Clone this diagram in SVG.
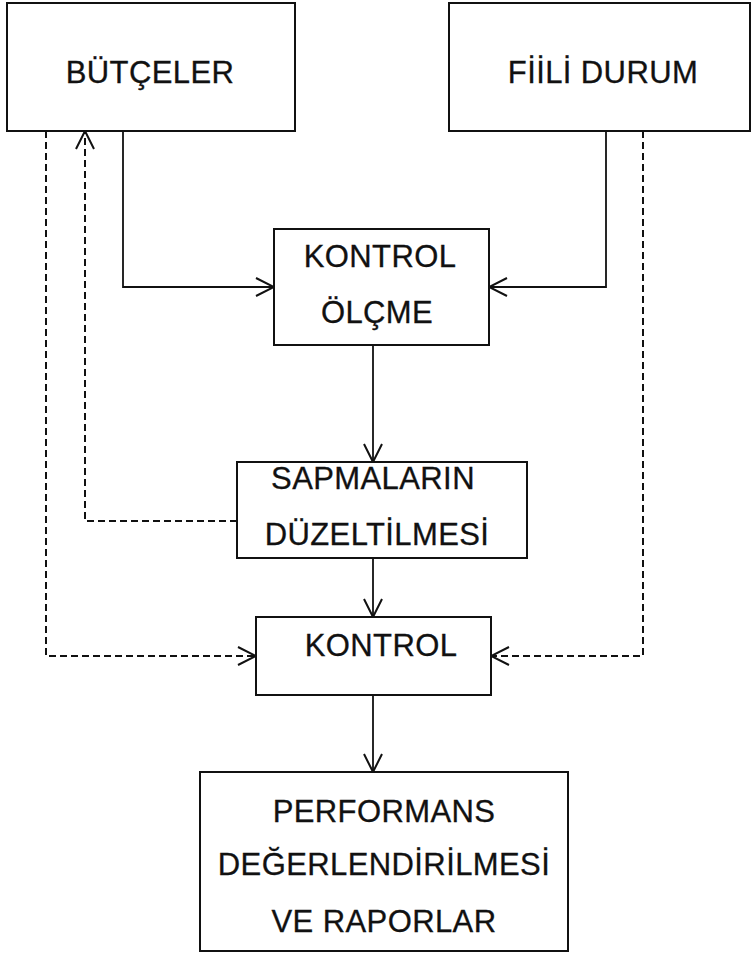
<svg xmlns="http://www.w3.org/2000/svg" width="751" height="954" viewBox="0 0 751 954">
<defs>
<style>
.box{fill:#fff;stroke:#111;stroke-width:2}
.t{font-family:"Liberation Sans","Arial",sans-serif;font-size:31px;letter-spacing:0.4px;fill:#111;stroke:#111;stroke-width:0.3;text-anchor:middle}
.c{fill:none;stroke:#111;stroke-width:1.8}
.d{fill:none;stroke:#111;stroke-width:2;stroke-dasharray:7 4}
</style>
<marker id="ah" markerUnits="userSpaceOnUse" markerWidth="22" markerHeight="22" viewBox="0 0 22 22" refX="20" refY="11" orient="auto">
<path d="M2,2 L20,11 L2,20" fill="none" stroke="#111" stroke-width="2"/>
</marker>
</defs>
<rect width="751" height="954" fill="#fff"/>
<g id="connectors">
<path class="c" d="M123,131 V287 H274" marker-end="url(#ah)"/>
<path class="c" d="M606,131 V287 H489" marker-end="url(#ah)"/>
<path class="c" d="M373,345 V462" marker-end="url(#ah)"/>
<path class="c" d="M373,558 V617" marker-end="url(#ah)"/>
<path class="c" d="M373,695 V772" marker-end="url(#ah)"/>
<path class="d" d="M46,131 V656 H256" marker-end="url(#ah)"/>
<path class="d" d="M643,131 V656 H491" marker-end="url(#ah)"/>
<path class="d" d="M237,521 H85 V131" marker-end="url(#ah)"/>
</g>
<g id="butceler">
<rect class="box" x="7" y="3" width="288" height="128"/>
<text class="t" x="150" y="83">BÜTÇELER</text>
</g>
<g id="fiili-durum">
<rect class="box" x="449" y="3" width="301" height="128"/>
<text class="t" x="603" y="83">FİİLİ DURUM</text>
</g>
<g id="kontrol-olcme">
<rect class="box" x="274" y="229" width="215" height="116"/>
<text class="t" x="380" y="267">KONTROL</text>
<text class="t" x="377" y="323">ÖLÇME</text>
</g>
<g id="sapmalarin">
<rect class="box" x="237" y="462" width="290" height="96"/>
<text class="t" x="373" y="489">SAPMALARIN</text>
<text class="t" x="377" y="545">DÜZELTİLMESİ</text>
</g>
<g id="kontrol">
<rect class="box" x="256" y="617" width="235" height="78"/>
<text class="t" x="381" y="656">KONTROL</text>
</g>
<g id="performans">
<rect class="box" x="200" y="772" width="368" height="179"/>
<text class="t" x="384" y="822">PERFORMANS</text>
<text class="t" x="384" y="875">DEĞERLENDİRİLMESİ</text>
<text class="t" x="384" y="932">VE RAPORLAR</text>
</g>
</svg>
